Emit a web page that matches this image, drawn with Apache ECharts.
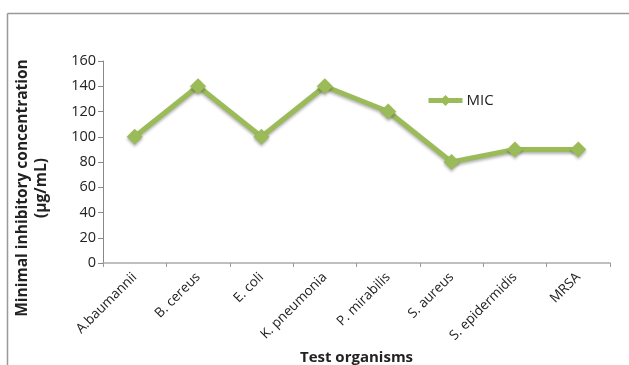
<!DOCTYPE html>
<html>
<head>
<meta charset="utf-8">
<script src="https://cdn.jsdelivr.net/npm/echarts@6/dist/echarts.min.js"></script>
<style>
  html, body { margin: 0; padding: 0; background: #fff; }
  #chart { width: 629px; height: 365px; }
</style>
</head>
<body>
<div id="chart"></div>
<script>
// 数据
var organisms = ['A.baumannii', 'B. cereus', 'E. coli', 'K. pneumonia', 'P. mirabilis', 'S. aureus', 'S. epidermidis', 'MRSA'];
var micValues = [100, 140, 100, 140, 120, 80, 90, 90];
var yTicks = [0, 20, 40, 60, 80, 100, 120, 140, 160];
var yTitle = ['Minimal inhibitory concentration', '(µg/mL)'];

var green = '#9BBB59';
var font = 'Open Sans';

var myChart = echarts.init(document.getElementById('chart'));

var option = {
    animation: false,
    backgroundColor: '#fff',
    textStyle: { fontFamily: font },
    grid: { left: 103, right: 19, top: 61, bottom: 102, containLabel: false, outerBoundsMode: 'none' },
    legend: {
        data: ['MIC'],
        left: 421,
        top: 88,
        itemWidth: 34,
        itemHeight: 14,
        itemGap: 4,
        lineStyle: { width: 5 },
        textStyle: { fontSize: 15, color: '#222', fontFamily: font, padding: [0, 0, 0, -1] }
    },
    xAxis: {
        type: 'category',
        data: organisms,
        boundaryGap: true,
        name: 'Test organisms',
        nameLocation: 'middle',
        nameGap: 87,
        nameTextStyle: { fontSize: 15, fontWeight: 'bold', color: '#222' },
        axisLine: { lineStyle: { color: '#aaa', width: 1.5 } },
        axisTick: { show: true, alignWithLabel: false, length: 4, lineStyle: { color: '#999' } },
        axisLabel: { rotate: 45, fontSize: 13.5, color: '#222', margin: 12, interval: 0 }
    },
    yAxis: {
        type: 'value',
        min: 0,
        max: yTicks[yTicks.length - 1],
        interval: 20,
        axisLine: { show: true, lineStyle: { color: '#888' } },
        axisTick: { show: true, length: 5, lineStyle: { color: '#888' } },
        axisLabel: { fontSize: 14.5, color: '#222', margin: 7 },
        splitLine: { show: false }
    },
    series: [{
        name: 'MIC',
        type: 'line',
        data: micValues,
        symbol: 'diamond',
        symbolSize: 16,
        color: green,
        lineStyle: { width: 5, color: green, shadowBlur: 3, shadowColor: 'rgba(0,0,0,0.3)', shadowOffsetY: 2 },
        itemStyle: { color: green, shadowBlur: 3, shadowColor: 'rgba(0,0,0,0.3)', shadowOffsetY: 2 }
    }],
    graphic: [
        // 外框
        { type: 'line', shape: { x1: 7.5, y1: 13.5, x2: 629, y2: 13.5 }, style: { stroke: '#999', lineWidth: 1.5 } },
        { type: 'line', shape: { x1: 7.5, y1: 13.5, x2: 7.5, y2: 365 }, style: { stroke: '#999', lineWidth: 1.5 } },
        // 纵轴标题
        {
            type: 'text', x: 23, y: 188, rotation: Math.PI / 2,
            style: { text: yTitle[0], font: 'bold 15.5px "Open Sans"', fill: '#222', align: 'center', verticalAlign: 'middle' }
        },
        {
            type: 'text', x: 42, y: 188, rotation: Math.PI / 2,
            style: { text: yTitle[1], font: 'bold 15.5px "Open Sans"', fill: '#222', align: 'center', verticalAlign: 'middle' }
        }
    ]
};

myChart.setOption(option);
</script>
</body>
</html>
